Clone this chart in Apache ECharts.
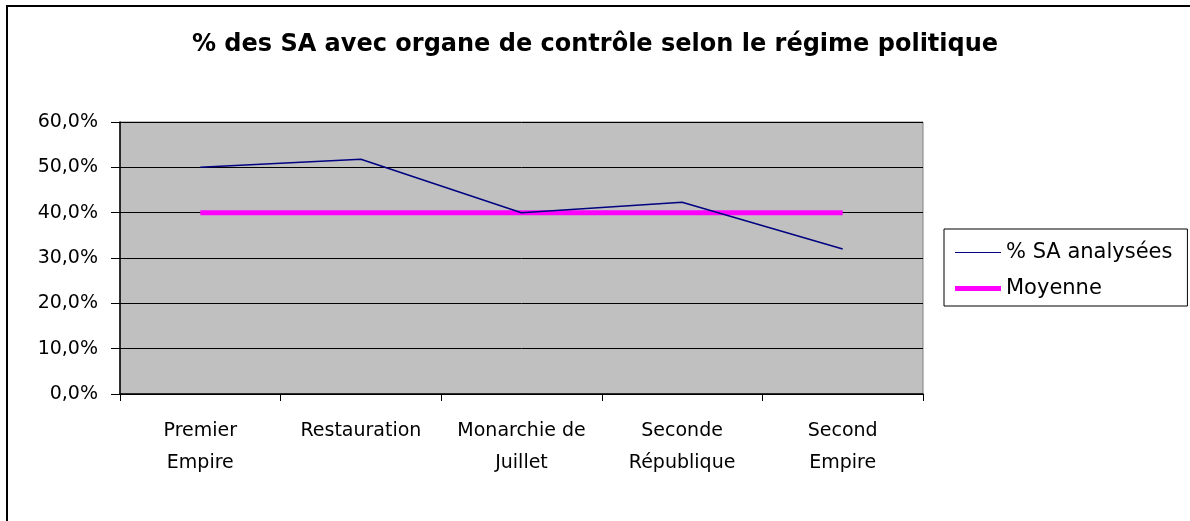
<!DOCTYPE html>
<html>
<head>
<meta charset="utf-8">
<script src="https://cdn.jsdelivr.net/npm/echarts@6/dist/echarts.min.js"></script>
<style>
  html, body { margin: 0; padding: 0; background: #fff; }
  #chart { width: 1190px; height: 521px; }
</style>
</head>
<body>
<div id="chart"></div>
<script>
var categories = ['Premier\nEmpire', 'Restauration', 'Monarchie de\nJuillet', 'Seconde\nRépublique', 'Second\nEmpire'];
var analysees = [50.0, 51.8, 40.0, 42.3, 32.0];
var moyenne = [40.0, 40.0, 40.0, 40.0, 40.0];

var font = '"DejaVu Sans", "Liberation Sans", Arial, sans-serif';
var chart = echarts.init(document.getElementById('chart'));

chart.setOption({
  backgroundColor: '#fff',
  animation: false,
  textStyle: { fontFamily: font, color: '#000' },
  title: {
    text: '% des SA avec organe de contrôle selon le régime politique',
    left: 'center',
    top: 28,
    textStyle: { fontFamily: font, fontSize: 24, fontWeight: 'bold', color: '#000' }
  },
  graphic: [
    {
      type: 'rect',
      shape: { x: 7, y: 6, width: 1300, height: 700 },
      style: { fill: null, stroke: '#000', lineWidth: 2 },
      silent: true
    }
  ],
  legend: {
    orient: 'vertical',
    left: 944,
    top: 229,
    padding: [13, 15, 7, 11],
    itemGap: 15,
    itemWidth: 46,
    itemHeight: 12,
    borderColor: '#000',
    borderWidth: 1,
    backgroundColor: '#fff',
    textStyle: { fontFamily: font, fontSize: 21, color: '#000' },
    data: [
      { name: '% SA analysées', itemStyle: { color: '#000080' }, icon: 'path://M0,5.5 L46,5.5 L46,6.5 L0,6.5 Z' },
      { name: 'Moyenne', itemStyle: { color: '#ff00ff' }, icon: 'path://M0,3.5 L46,3.5 L46,8.5 L0,8.5 Z' }
    ]
  },
  grid: {
    left: 120,
    right: 267,
    top: 122,
    bottom: 127,
    show: true,
    backgroundColor: '#c0c0c0',
    borderColor: '#808080',
    borderWidth: 1
  },
  xAxis: {
    type: 'category',
    data: categories,
    boundaryGap: true,
    axisLine: { lineStyle: { color: '#000', width: 1.5 } },
    axisTick: { show: true, length: 7, inside: false, lineStyle: { color: '#000' } },
    axisLabel: {
      fontFamily: font,
      fontSize: 19,
      color: '#000',
      margin: 21,
      lineHeight: 32,
      interval: 0
    }
  },
  yAxis: {
    type: 'value',
    min: 0,
    max: 60,
    interval: 10,
    axisLine: { show: true, lineStyle: { color: '#000', width: 1.5 } },
    axisTick: { show: true, length: 9, lineStyle: { color: '#000' } },
    splitLine: { show: true, lineStyle: { color: '#000', width: 1 } },
    axisLabel: {
      fontFamily: font,
      fontSize: 19,
      color: '#000',
      margin: 22,
      formatter: function (v) { return v.toFixed(1).replace('.', ',') + '%'; }
    }
  },
  series: [
    {
      name: '% SA analysées',
      type: 'line',
      data: analysees,
      symbol: 'none',
      lineStyle: { color: '#000080', width: 1.5 },
      itemStyle: { color: '#000080' },
      z: 3
    },
    {
      name: 'Moyenne',
      type: 'line',
      data: moyenne,
      symbol: 'none',
      lineStyle: { color: '#ff00ff', width: 5 },
      itemStyle: { color: '#ff00ff' },
      z: 2
    }
  ]
});
</script>
</body>
</html>
